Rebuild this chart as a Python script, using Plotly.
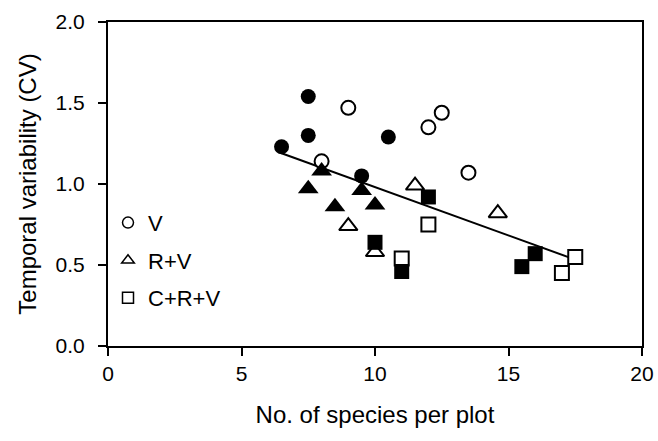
import plotly.graph_objects as go

# V (circles)
v_open_x = [9.0, 12.5, 12.0, 8.0, 13.5]
v_open_y = [1.47, 1.44, 1.35, 1.14, 1.07]
v_fill_x = [7.5, 7.5, 10.5, 6.5, 9.5]
v_fill_y = [1.54, 1.30, 1.29, 1.23, 1.05]
# R+V (triangles)
rv_open_x = [11.5, 9.0, 10.0, 14.6]
rv_open_y = [0.99, 0.74, 0.58, 0.82]
rv_fill_x = [8.0, 7.5, 9.5, 8.5, 10.0]
rv_fill_y = [1.08, 0.97, 0.96, 0.86, 0.87]
# C+R+V (squares)
crv_open_x = [12.0, 11.0, 17.5, 17.0]
crv_open_y = [0.75, 0.54, 0.55, 0.45]
crv_fill_x = [12.0, 10.0, 11.0, 15.5, 16.0]
crv_fill_y = [0.92, 0.64, 0.46, 0.49, 0.57]

# regression line
fit_x_range = [6.5, 17.55]
fit_intercept = 1.578
fit_slope = -0.0597

legend_labels = ["V", "R+V", "C+R+V"]
x_ticks = [0, 5, 10, 15, 20]
y_ticks = [0.0, 0.5, 1.0, 1.5, 2.0]

FONT = "Liberation Sans, Arial, sans-serif"
fig = go.Figure()

fit_y = [fit_intercept + fit_slope * x for x in fit_x_range]
fig.add_trace(go.Scatter(x=fit_x_range, y=fit_y, mode="lines",
                         line=dict(color="black", width=2), showlegend=False))

def add(xs, ys, symbol, filled, size):
    fig.add_trace(go.Scatter(
        x=xs, y=ys, mode="markers", showlegend=False,
        marker=dict(symbol=symbol, size=size,
                    color="black" if filled else "white",
                    line=dict(color="black", width=2 if not filled else 0))))

add(v_open_x, v_open_y, "circle", False, 14)
add(v_fill_x, v_fill_y, "circle", True, 15)
add(rv_open_x, rv_open_y, "triangle-up", False, 16)
add(rv_fill_x, rv_fill_y, "triangle-up", True, 18)
add(crv_open_x, crv_open_y, "square", False, 14)
add(crv_fill_x, crv_fill_y, "square", True, 15)

for i, (lab, sym) in enumerate(zip(legend_labels, ["circle", "triangle-up", "square"])):
    fig.add_trace(go.Scatter(
        x=[None], y=[None], mode="markers", name=lab, legendgroup=f"g{i}",
        marker=dict(symbol=sym, size=11, color="white",
                    line=dict(color="black", width=1.5))))

axis_common = dict(showline=True, linecolor="black", linewidth=2, mirror=True,
                   ticks="outside", ticklen=8, tickwidth=2, tickcolor="black",
                   showgrid=False, zeroline=False, automargin=False,
                   tickfont=dict(family=FONT, size=21, color="black"))

fig.update_xaxes(range=[0, 20], tickvals=x_ticks,
                 title=dict(text="No. of species per plot",
                            font=dict(family=FONT, size=24, color="black"),
                            standoff=22),
                 **axis_common)
fig.update_yaxes(range=[0, 2.0], tickvals=y_ticks, tickformat=".1f",
                 ticklabelstandoff=9,
                 title=dict(text="Temporal variability (CV)",
                            font=dict(family=FONT, size=24, color="black"),
                            standoff=12),
                 **axis_common)

fig.update_layout(
    width=658, height=441,
    margin=dict(l=108, r=16, t=22, b=95),
    plot_bgcolor="white", paper_bgcolor="white",
    showlegend=True,
    legend=dict(x=0.0, y=0.445, xanchor="left", yanchor="top",
                bgcolor="rgba(0,0,0,0)", borderwidth=0,
                font=dict(family=FONT, size=22, color="black"),
                tracegroupgap=6, itemwidth=30),
)

# remove the browser's default page margin so the figure fills the window
fig.write_html("out.html",
               config={"displayModeBar": False},
               post_script="document.body.style.margin='0';document.body.style.overflow='hidden';")
